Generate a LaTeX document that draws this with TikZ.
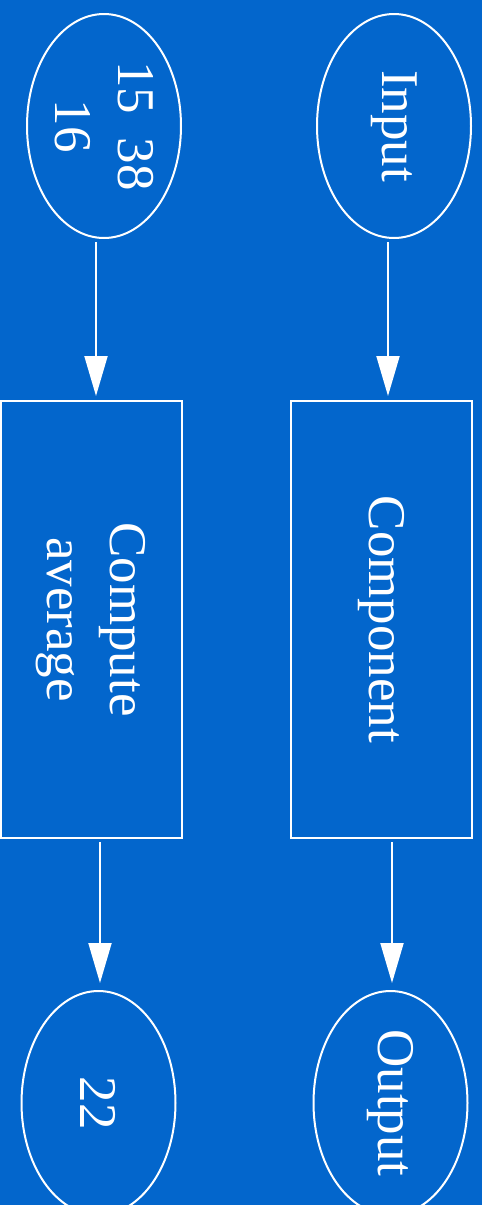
\documentclass[tikz,border=0pt]{standalone}
\usepackage{fontspec}
\setmainfont{Liberation Serif}
\usepackage{xcolor}
\usetikzlibrary{arrows.meta,positioning,shapes.geometric,calc}
\definecolor{bgblue}{RGB}{3,102,204}
\tikzset{terminal/.style={
  % The shape:
  ellipse,
  minimum width=224pt, minimum height=154pt,
  % The rest
  line width=2pt, draw=white,
  inner sep=0pt, outer sep=0pt,
  rotate=-90,
  }
}
\tikzset{process/.style={
  % The shape:
  rectangle,
  minimum width=437pt, minimum height=181pt,
  % The rest
  line width=2pt, draw=white,
  inner sep=0pt, outer sep=0pt,
  rotate=-90,
  }
}
\begin{document}
\begin{tikzpicture}[x=1pt,y=-1pt,
    every node/.style={text=white,font=\fontsize{53}{63}\selectfont,align=center},
    arr/.style={line width=2pt,draw=white,-{Triangle[length=40pt,width=23pt]}}]
  \fill[bgblue] (0,0) rectangle (482,1205);
  \useasboundingbox (0,0) rectangle (482,1205);
  % right column
  \node (in)    [terminal] at (394,126)   {Input};
  \node (comp)  [process]  at (381,619.5) {Component};
  \node (out)   [terminal] at (390.5,1103) {Output};
  % left column
  \node (vals)  [terminal] at (104,126)   {15\hspace{0.45em}38\\16};
  \node (avg)   [process]  at (91,619.5)  {Compute\\average};
  \node (res)   [terminal] at (98.5,1103) {22};

  \draw[arr] ([xshift=-6pt,yshift=-4pt]in.east) -- ([xshift=-6pt,yshift=5pt]in.east |- comp.west);
  \draw[arr] ([xshift=-8pt,yshift=-4pt]vals.east) -- ([xshift=-8pt,yshift=5pt]vals.east |- avg.west);
  \draw[arr] ([xshift=11pt,yshift=-4pt]comp.east) -- ([xshift=11pt,yshift=8pt]comp.east |- out.west);
  \draw[arr] ([xshift=9pt,yshift=-4pt]avg.east) -- ([xshift=9pt,yshift=8pt]avg.east |- res.west);
\end{tikzpicture}
\end{document}
